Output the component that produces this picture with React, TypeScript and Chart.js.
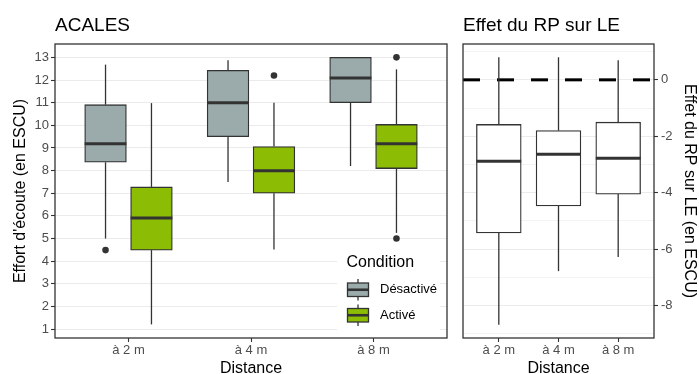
import React, { useEffect, useRef } from 'react';
import { Chart, registerables } from 'chart.js';

Chart.register(...registerables);

// ---------- data ----------
const distances = ['à 2 m', 'à 4 m', 'à 8 m'];
const conditions = ['Désactivé', 'Activé'];
const conditionColors = ['#9BABAB', '#8CBC04'];

// Left panel (ACALES) — five-number summaries per distance
const desactiveMin = [5.0, 7.5, 8.2];
const desactiveQ1 = [8.37, 9.5, 11.0];
const desactiveMedian = [9.19, 11.0, 12.09];
const desactiveQ3 = [10.91, 12.43, 13.0];
const desactiveMax = [12.68, 12.87, 13.0];
const desactiveOutliers = [[4.49], [], []];

const activeMin = [1.21, 4.52, 5.25];
const activeQ1 = [4.49, 7.0, 8.09];
const activeMedian = [5.91, 7.99, 9.19];
const activeQ3 = [7.28, 9.06, 10.04];
const activeMax = [10.98, 11.0, 12.47];
const activeOutliers = [[], [12.2], [13.0, 5.0]];

// Right panel (Effet du RP sur LE)
const effectMin = [-8.68, -6.78, -6.28];
const effectQ1 = [-5.43, -4.47, -4.05];
const effectMedian = [-2.89, -2.64, -2.78];
const effectQ3 = [-1.58, -1.8, -1.5];
const effectMax = [0.8, 0.8, 0.69];
const referenceLine = 0;

// Ticks
const leftTickValues = [1, 2, 3, 4, 5, 6, 7, 8, 9, 10, 11, 12, 13];
const leftTickLabels = ['1', '2', '3', '4', '5', '6', '7', '8', '9', '10', '11', '12', '13'];
const rightTickValues = [0, -2, -4, -6, -8];
const rightTickLabels = ['0', '-2', '-4', '-6', '-8'];
const rightMinorTicks = [1, -1, -3, -5, -7, -9];

// Texts
const leftTitle = 'ACALES';
const rightTitle = 'Effet du RP sur LE';
const leftYTitle = "Effort d'écoute (en ESCU)";
const rightYTitle = 'Effet du RP sur LE (en ESCU)';
const xTitle = 'Distance';
const legendTitle = 'Condition';

// ---------- styles ----------
const FONT = "'Liberation Sans', Arial, Helvetica, sans-serif";
const INK = '#333333';
const GRID = '#EBEBEB';
const TICK_TEXT = '#4D4D4D';
const DODGE = 0.1875;

type Box = {
  label: string;
  color: string;
  offset: number;
  min: number[];
  q1: number[];
  median: number[];
  q3: number[];
  max: number[];
  outliers: number[][];
};

const leftBoxes: Box[] = [
  {
    label: conditions[0], color: conditionColors[0], offset: -DODGE,
    min: desactiveMin, q1: desactiveQ1, median: desactiveMedian, q3: desactiveQ3, max: desactiveMax,
    outliers: desactiveOutliers,
  },
  {
    label: conditions[1], color: conditionColors[1], offset: DODGE,
    min: activeMin, q1: activeQ1, median: activeMedian, q3: activeQ3, max: activeMax,
    outliers: activeOutliers,
  },
];

const rightBoxes: Box[] = [
  {
    label: 'effet', color: '#FFFFFF', offset: 0,
    min: effectMin, q1: effectQ1, median: effectMedian, q3: effectQ3, max: effectMax,
    outliers: [[], [], []],
  },
];

function line(ctx: CanvasRenderingContext2D, x1: number, y1: number, x2: number, y2: number) {
  ctx.beginPath();
  ctx.moveTo(x1, y1);
  ctx.lineTo(x2, y2);
  ctx.stroke();
}

function whiskerPlugin(boxes: Box[]) {
  return {
    id: 'whiskers',
    beforeDatasetsDraw(chart: any) {
      const ctx = chart.ctx as CanvasRenderingContext2D;
      const y = chart.scales.y;
      ctx.save();
      ctx.strokeStyle = INK;
      ctx.lineWidth = 1.3;
      boxes.forEach((b, j) => {
        const meta = chart.getDatasetMeta(j);
        meta.data.forEach((el: any, i: number) => {
          const x = el.x;
          line(ctx, x, y.getPixelForValue(b.max[i]), x, y.getPixelForValue(b.q3[i]));
          line(ctx, x, y.getPixelForValue(b.q1[i]), x, y.getPixelForValue(b.min[i]));
        });
      });
      ctx.restore();
    },
    afterDatasetsDraw(chart: any) {
      const ctx = chart.ctx as CanvasRenderingContext2D;
      const y = chart.scales.y;
      ctx.save();
      ctx.strokeStyle = INK;
      ctx.lineWidth = 3;
      boxes.forEach((b, j) => {
        const meta = chart.getDatasetMeta(j);
        meta.data.forEach((el: any, i: number) => {
          const py = y.getPixelForValue(b.median[i]);
          line(ctx, el.x - el.width / 2, py, el.x + el.width / 2, py);
        });
      });
      // panel border
      const a = chart.chartArea;
      ctx.lineWidth = 1.3;
      ctx.strokeRect(a.left, a.top, a.right - a.left, a.bottom - a.top);
      ctx.restore();
    },
  };
}

function boxDatasets(boxes: Box[], thickness: number) {
  const bars = boxes.map((b) => ({
    type: 'bar',
    label: b.label,
    data: distances.map((_, i) => ({ x: i + 1 + b.offset, y: [b.q1[i], b.q3[i]] })),
    backgroundColor: b.color,
    borderColor: INK,
    borderWidth: 1.3,
    borderSkipped: false,
    grouped: false,
    categoryPercentage: 1,
    barPercentage: 1,
    maxBarThickness: thickness,
    order: 1,
  }));
  const points = boxes.map((b) => ({
    type: 'scatter',
    label: b.label + ' outliers',
    data: b.outliers.flatMap((arr, i) => arr.map((v) => ({ x: i + 1 + b.offset, y: v }))),
    pointRadius: 3.3,
    pointBackgroundColor: INK,
    pointBorderWidth: 0,
    order: 0,
  }));
  return [...bars, ...points];
}

function xScale() {
  return {
    type: 'linear',
    min: 0.4,
    max: 3.6,
    offset: false,
    bounds: 'data',
    afterBuildTicks: (s: any) => {
      s.ticks = distances.map((_, i) => ({ value: i + 1 }));
    },
    afterFit: (s: any) => {
      s.height = 36;
    },
    grid: {
      offset: false,
      drawOnChartArea: false,
      drawTicks: true,
      tickLength: 4,
      tickColor: INK,
      tickWidth: 1.1,
    },
    border: { display: false },
    ticks: {
      autoSkip: false,
      maxRotation: 0,
      padding: 1,
      color: TICK_TEXT,
      font: { size: 13, family: FONT },
      callback: (v: number) => distances[Math.round(v) - 1] ?? '',
    },
  };
}

function leftDecorations() {
  return {
    id: 'leftDecor',
    afterDraw(chart: any) {
      const ctx = chart.ctx as CanvasRenderingContext2D;
      const a = chart.chartArea;
      ctx.save();
      ctx.fillStyle = '#000000';
      ctx.textAlign = 'left';
      ctx.textBaseline = 'alphabetic';
      ctx.font = `19px ${FONT}`;
      ctx.fillText(leftTitle, a.left, 31);
      ctx.font = `16px ${FONT}`;
      ctx.textAlign = 'center';
      ctx.fillText(xTitle, (a.left + a.right) / 2, 373);
      ctx.save();
      ctx.translate(25, (a.top + a.bottom) / 2);
      ctx.rotate(-Math.PI / 2);
      ctx.fillText(leftYTitle, 0, 0);
      ctx.restore();

      // legend
      ctx.fillStyle = '#FFFFFF';
      ctx.fillRect(337, 246, 103, 88);
      ctx.fillStyle = '#000000';
      ctx.textAlign = 'left';
      ctx.font = `16px ${FONT}`;
      ctx.fillText(legendTitle, 346.5, 266.5);
      conditions.forEach((c, k) => {
        const top = 283 + k * 25.5;
        const left = 347.5;
        const w = 21;
        const h = 13.5;
        const cx = left + w / 2;
        ctx.strokeStyle = INK;
        ctx.lineWidth = 1.3;
        line(ctx, cx, top - 4, cx, top);
        line(ctx, cx, top + h, cx, top + h + 4);
        ctx.fillStyle = conditionColors[k];
        ctx.fillRect(left, top, w, h);
        ctx.strokeRect(left, top, w, h);
        ctx.lineWidth = 2.6;
        line(ctx, left, top + h / 2, left + w, top + h / 2);
        ctx.fillStyle = '#000000';
        ctx.font = `13px ${FONT}`;
        ctx.textBaseline = 'middle';
        ctx.fillText(c, 380, top + h / 2);
        ctx.textBaseline = 'alphabetic';
      });
      ctx.restore();
    },
  };
}

function rightDecorations() {
  return {
    id: 'rightDecor',
    beforeDatasetsDraw(chart: any) {
      const ctx = chart.ctx as CanvasRenderingContext2D;
      const a = chart.chartArea;
      const py = chart.scales.y.getPixelForValue(referenceLine);
      ctx.save();
      ctx.strokeStyle = '#000000';
      ctx.lineWidth = 3;
      ctx.setLineDash([17, 17]);
      line(ctx, a.left, py, a.right, py);
      ctx.restore();
    },
    afterDraw(chart: any) {
      const ctx = chart.ctx as CanvasRenderingContext2D;
      const a = chart.chartArea;
      ctx.save();
      ctx.fillStyle = '#000000';
      ctx.textAlign = 'left';
      ctx.textBaseline = 'alphabetic';
      ctx.font = `19px ${FONT}`;
      ctx.fillText(rightTitle, a.left, 31);
      ctx.font = `16px ${FONT}`;
      ctx.textAlign = 'center';
      ctx.fillText(xTitle, (a.left + a.right) / 2, 373);
      ctx.save();
      ctx.translate(a.right + 31, (a.top + a.bottom) / 2);
      ctx.rotate(Math.PI / 2);
      ctx.fillText(rightYTitle, 0, 0);
      ctx.restore();
      ctx.restore();
    },
  };
}

export default function App() {
  const leftRef = useRef<HTMLCanvasElement>(null);
  const rightRef = useRef<HTMLCanvasElement>(null);

  useEffect(() => {
    Chart.defaults.font.family = FONT;
    const left = new Chart(leftRef.current as HTMLCanvasElement, {
      type: 'bar',
      data: { datasets: boxDatasets(leftBoxes, 41.7) as any },
      options: {
        animation: false,
        responsive: false,
        events: [],
        layout: { padding: { left: 0, right: 8, top: 44, bottom: 0 } },
        plugins: { legend: { display: false }, tooltip: { enabled: false }, title: { display: false } },
        scales: {
          x: xScale() as any,
          y: {
            type: 'linear',
            min: 0.61,
            max: 13.59,
            beginAtZero: false,
            bounds: 'data',
            afterBuildTicks: (s: any) => {
              s.ticks = leftTickValues.map((v) => ({ value: v }));
            },
            afterFit: (s: any) => {
              s.width = 55;
            },
            grid: { color: GRID, lineWidth: 1, tickLength: 4, tickColor: INK, tickWidth: 1.1 },
            border: { display: false },
            ticks: {
              padding: 2,
              color: TICK_TEXT,
              font: { size: 13, family: FONT },
              callback: (v: number) => leftTickLabels[leftTickValues.indexOf(v)] ?? '',
            },
          } as any,
        },
      },
      plugins: [whiskerPlugin(leftBoxes), leftDecorations()],
    });

    const allRight = [...rightTickValues, ...rightMinorTicks].sort((p, q) => q - p);
    const right = new Chart(rightRef.current as HTMLCanvasElement, {
      type: 'bar',
      data: { datasets: boxDatasets(rightBoxes, 44.8) as any },
      options: {
        animation: false,
        responsive: false,
        events: [],
        layout: { padding: { left: 8, right: 0, top: 44, bottom: 0 } },
        plugins: { legend: { display: false }, tooltip: { enabled: false }, title: { display: false } },
        scales: {
          x: xScale() as any,
          y: {
            type: 'linear',
            position: 'right',
            min: -9.15,
            max: 1.27,
            beginAtZero: false,
            bounds: 'data',
            afterBuildTicks: (s: any) => {
              s.ticks = allRight.map((v) => ({ value: v }));
            },
            afterFit: (s: any) => {
              s.width = 45;
            },
            grid: {
              color: GRID,
              lineWidth: (c: any) => (rightTickValues.includes(c.tick?.value) ? 1 : 0.6),
              tickLength: 4,
              tickColor: (c: any) => (rightTickValues.includes(c.tick?.value) ? INK : 'rgba(0,0,0,0)'),
              tickWidth: 1.1,
            },
            border: { display: false },
            ticks: {
              padding: 3,
              color: TICK_TEXT,
              font: { size: 13, family: FONT },
              callback: (v: number) => {
                const k = rightTickValues.indexOf(v);
                return k >= 0 ? rightTickLabels[k] : '';
              },
            },
          } as any,
        },
      },
      plugins: [rightDecorations(), whiskerPlugin(rightBoxes)],
    });

    return () => {
      left.destroy();
      right.destroy();
    };
  }, []);

  return (
    <div style={{ position: 'fixed', left: 0, top: 0, width: 699, height: 374, background: '#FFFFFF' }}>
      <canvas
        ref={leftRef}
        width={455}
        height={374}
        style={{ position: 'absolute', left: 0, top: 0, width: 455, height: 374 }}
      />
      <canvas
        ref={rightRef}
        width={244}
        height={374}
        style={{ position: 'absolute', left: 455, top: 0, width: 244, height: 374 }}
      />
    </div>
  );
}
